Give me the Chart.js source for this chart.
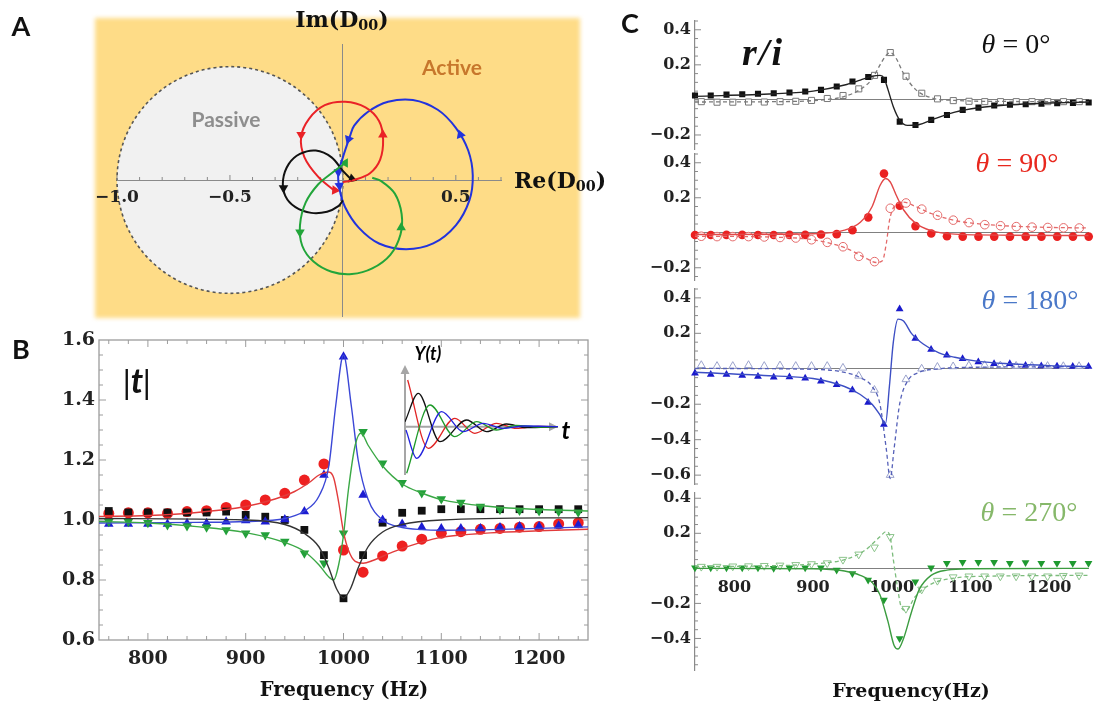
<!DOCTYPE html>
<html>
<head>
<meta charset="utf-8">
<script src="https://cdn.jsdelivr.net/npm/chart.js@4.4.1/dist/chart.umd.min.js"></script>
<style>
  body { margin: 0; background: #fff; }
  #wrap { position: relative; width: 1094px; height: 709px; overflow: hidden; font-family: 'DejaVu Serif', serif; }
  canvas { position: absolute; }
  .t { position: absolute; transform: translate(-50%, -50%); white-space: nowrap; z-index: 5; line-height: 1; }
  .lbl { font-family: Lato, 'Open Sans', sans-serif; font-weight: bold; font-size: 27px; color: #111; }
  .ser { font-family: 'DejaVu Serif', serif; font-weight: bold; color: #111; }
  .th { font-family: 'Liberation Serif', serif; font-size: 28px; }
  sub { font-size: 0.65em; vertical-align: -0.25em; }
</style>
</head>
<body>
<div id="wrap">
  <canvas id="cA" width="600" height="330" style="left:0px;top:0px"></canvas>
  <canvas id="cB" width="600" height="389" style="left:0px;top:320px"></canvas>
  <canvas id="cIn" width="185" height="140" style="left:395px;top:345px"></canvas>
  <canvas id="c1" width="494" height="156" style="left:600px;top:7px"></canvas>
  <canvas id="c2" width="494" height="154" style="left:600px;top:140px"></canvas>
  <canvas id="c3" width="494" height="223" style="left:600px;top:275px"></canvas>
  <canvas id="c4" width="494" height="205" style="left:600px;top:479px"></canvas>

  <div class="t lbl" style="left:21px;top:25px">A</div>
  <div class="t ser" style="left:342px;top:20px;font-size:22px">Im(D<sub>00</sub>)</div>
  <div class="t ser" style="left:514px;top:181px;font-size:22px;transform:translate(0,-50%)">Re(D<sub>00</sub>)</div>
  <div class="t lbl" style="left:226px;top:118px;font-size:21px;color:#8e8e8e">Passive</div>
  <div class="t lbl" style="left:452px;top:66px;font-size:21px;color:#c7772c">Active</div>

  <div class="t lbl" style="left:21px;top:348px">B</div>
  <div class="t ser" style="left:137px;top:381px;font-size:34px;font-family:'Liberation Serif',serif;font-style:italic">|<span style="font-family:Lato,sans-serif">t</span>|</div>
  <div class="t" style="left:428px;top:353px;font-family:Lato,sans-serif;font-weight:bold;font-style:italic;font-size:18px">Y(t)</div>
  <div class="t" style="left:566px;top:430px;font-family:Lato,sans-serif;font-weight:bold;font-style:italic;font-size:24px">t</div>
  <div class="t ser" style="left:344px;top:690px;font-size:19.5px">Frequency (Hz)</div>

  <div class="t lbl" style="left:630px;top:22px">C</div>
  <div class="t ser" style="left:763px;top:52px;font-size:38px;font-family:'Liberation Serif',serif;font-style:italic;letter-spacing:2px">r/i</div>
  <div class="t th" style="left:1016px;top:44px;color:#111"><i>θ</i> = 0°</div>
  <div class="t th" style="left:1017px;top:163px;color:#e8281e"><i>θ</i> = 90°</div>
  <div class="t th" style="left:1030px;top:300px;color:#4a78c8"><i>θ</i> = 180°</div>
  <div class="t th" style="left:1029px;top:512px;color:#86b86a"><i>θ</i> = 270°</div>
  <div class="t ser" style="left:911px;top:690px;font-size:19px">Frequency(Hz)</div>
</div>

<script>
// ---- panel A: D00 in the complex plane ----
const aTicksX = [-1.0, -0.5, 0.5];
const passiveCenter = [-0.5, 0];
const passiveRadius = 0.5;

const redLoop = [[0.0,-0.01],[0.05,0.0],[0.12,0.03],[0.165,0.09],[0.178,0.18],[0.16,0.26],[0.1,0.32],[0.01,0.345],[-0.08,0.33],[-0.15,0.27],[-0.185,0.19],[-0.17,0.1],[-0.11,0.015],[-0.04,-0.045]];
const blueLoop = [[0.03,0.19],[0.0,0.1],[-0.02,0.03],[-0.015,-0.04],[0.01,-0.12],[0.07,-0.21],[0.16,-0.28],[0.28,-0.305],[0.4,-0.28],[0.5,-0.2],[0.56,-0.09],[0.575,0.02],[0.555,0.13],[0.5,0.23],[0.42,0.31],[0.31,0.353],[0.2,0.345],[0.11,0.3],[0.05,0.24],[0.03,0.19]];
const greenLoop = [[0.01,0.075],[-0.05,0.03],[-0.11,-0.02],[-0.165,-0.1],[-0.19,-0.2],[-0.18,-0.29],[-0.13,-0.36],[-0.05,-0.405],[0.04,-0.415],[0.13,-0.39],[0.21,-0.33],[0.255,-0.24],[0.26,-0.15],[0.23,-0.06],[0.17,-0.005],[0.13,0.01]];
const blackLoop = [[0.04,0.0],[0.0,0.04],[-0.05,0.1],[-0.12,0.13],[-0.19,0.115],[-0.24,0.07],[-0.265,0.0],[-0.255,-0.07],[-0.21,-0.12],[-0.14,-0.145],[-0.07,-0.14],[-0.02,-0.115],[0.0,-0.09]];

const redArrows = [[0.177,0.2],[-0.185,0.2],[-0.035,-0.045]];
const redArrowRot = [0, 180, 215];
const blueArrows = [[0.52,0.2],[0.025,0.18],[-0.02,0.035],[-0.015,-0.025]];
const blueArrowRot = [340, 200, 180, 175];
const greenArrows = [[-0.19,-0.23],[0.258,-0.21],[0.01,0.075]];
const greenArrowRot = [180, 0, 30];
const blackArrows = [[-0.263,-0.035],[0.04,0.005]];
const blackArrowRot = [180, 110];

// ---- panel B: |t| ----
const bTicksX = [800, 900, 1000, 1100, 1200];
const bTicksY = [0.6, 0.8, 1.0, 1.2, 1.4, 1.6];
const bFreq = [760,780,800,820,840,860,880,900,920,940,960,980,1000,1020,1040,1060,1080,1100,1120,1140,1160,1180,1200,1220,1240];
const bRed = [1.022,1.024,1.024,1.022,1.028,1.031,1.042,1.05,1.067,1.089,1.133,1.187,0.9,0.826,0.88,0.913,0.936,0.956,0.961,0.969,0.972,0.976,0.978,0.987,0.991];
const bBlue = [0.987,0.987,0.987,0.987,0.989,0.989,0.994,0.998,0.994,1.002,1.028,1.15,1.544,1.083,1.0,0.987,0.976,0.972,0.972,0.972,0.975,0.978,0.978,0.981,0.983];
const bGreen = [0.994,0.994,0.991,0.983,0.98,0.976,0.967,0.956,0.95,0.928,0.889,0.856,0.956,1.294,1.189,1.124,1.09,1.07,1.058,1.045,1.035,1.032,1.03,1.028,1.026];
const bBlack = [1.03,1.025,1.025,1.025,1.025,1.025,1.028,1.017,1.011,1.0,0.967,0.883,0.739,0.883,0.991,1.024,1.031,1.036,1.036,1.036,1.036,1.036,1.036,1.036,1.036];

const bRedFitX = [750,800,850,900,930,950,965,975,985,990,995,1000,1005,1012,1020,1030,1050,1080,1100,1150,1200,1250];
const bRedFitY = [1.012,1.015,1.025,1.045,1.07,1.095,1.125,1.15,1.16,1.14,1.06,0.96,0.9,0.862,0.856,0.865,0.893,0.926,0.942,0.957,0.964,0.969];
const bBlueFitX = [750,850,900,940,960,975,985,992,1000,1008,1015,1025,1040,1060,1080,1100,1150,1200,1250];
const bBlueFitY = [0.99,0.992,0.995,1.005,1.03,1.08,1.18,1.38,1.55,1.38,1.2,1.07,1.0,0.975,0.968,0.966,0.968,0.972,0.977];
const bGreenFitX = [750,800,850,900,940,960,975,985,990,995,1000,1005,1012,1018,1025,1040,1060,1080,1100,1150,1200,1250];
const bGreenFitY = [0.995,0.99,0.978,0.958,0.925,0.895,0.85,0.81,0.8,0.85,0.95,1.1,1.25,1.29,1.25,1.18,1.12,1.09,1.068,1.045,1.035,1.03];
const bBlackFitX = [750,900,940,960,975,985,993,1000,1007,1015,1025,1040,1060,1100,1250];
const bBlackFitY = [1.005,1.0,0.985,0.955,0.91,0.84,0.77,0.74,0.77,0.84,0.91,0.96,0.985,1.0,1.008];

// inset Y(t): turning points of the four ringing responses
const inRed = [[0.8,14],[7,-6.5],[15,2.5],[21,-2],[27.5,1],[33.5,-0.5],[40,0.1],[46,0]];
const inBlack = [[0,1.5],[4,10],[10.5,-4.5],[18.5,2],[24.5,-1.5],[30.5,0.8],[36.5,-0.3],[46,0]];
const inGreen = [[0.5,-14],[7.5,6.5],[15,-3],[21.5,1.5],[27.5,-1],[33.5,0.4],[40,-0.1],[46,0]];
const inBlue = [[0.3,-1],[3.5,-9.5],[11,4.5],[17.5,-1.5],[23.5,1],[29.5,-0.5],[36,0.2],[46,0]];

// ---- panel C: r/i ----
const cTicksX = [800, 900, 1000, 1100, 1200];
const cFreq = [750,770,790,810,830,850,870,890,910,930,950,970,990,1010,1030,1050,1070,1090,1110,1130,1150,1170,1190,1210,1230,1250];
const cOpenFreq = [758,778,798,818,838,858,878,898,918,938,958,978,998,1018,1038,1058,1078,1098,1118,1138,1158,1178,1198,1218,1238];

const c1Filled = [0.025,0.025,0.03,0.032,0.035,0.038,0.042,0.048,0.057,0.076,0.105,0.131,0.114,-0.124,-0.143,-0.114,-0.086,-0.057,-0.044,-0.032,-0.028,-0.025,-0.021,-0.019,-0.017,-0.015];
const c1Open = [-0.01,-0.013,-0.013,-0.012,-0.012,-0.01,-0.008,-0.003,0.008,0.025,0.063,0.14,0.27,0.135,0.038,0.006,-0.004,-0.008,-0.01,-0.01,-0.01,-0.01,-0.01,-0.01,-0.01];
const c1FitX = [750,850,900,940,960,975,985,990,995,1002,1010,1020,1035,1050,1080,1110,1150,1200,1250];
const c1FitY = [0.02,0.035,0.05,0.085,0.113,0.135,0.14,0.125,0.06,-0.04,-0.115,-0.145,-0.14,-0.115,-0.07,-0.045,-0.028,-0.018,-0.012];
const c1DashX = [750,850,900,940,960,975,985,992,998,1005,1015,1030,1050,1080,1150,1250];
const c1DashY = [-0.012,-0.01,-0.004,0.02,0.06,0.12,0.2,0.25,0.27,0.24,0.15,0.06,0.012,-0.003,-0.009,-0.01];

const c2Filled = [-0.013,-0.013,-0.012,-0.012,-0.013,-0.013,-0.012,-0.012,-0.01,-0.008,0.015,0.088,0.338,0.154,0.038,-0.004,-0.02,-0.022,-0.022,-0.022,-0.022,-0.022,-0.022,-0.022,-0.022,-0.022];
const c2Open = [-0.02,-0.022,-0.022,-0.022,-0.024,-0.027,-0.03,-0.04,-0.055,-0.08,-0.135,-0.165,0.14,0.17,0.135,0.1,0.072,0.058,0.046,0.04,0.035,0.032,0.03,0.028,0.027];
const c2FitX = [750,900,940,960,975,985,992,998,1005,1015,1030,1050,1080,1150,1250];
const c2FitY = [-0.01,-0.006,0.015,0.06,0.15,0.27,0.31,0.29,0.22,0.13,0.055,0.012,-0.008,-0.014,-0.016];
const c2DashX = [750,850,900,940,965,980,988,993,997,1003,1015,1030,1050,1080,1120,1180,1250];
const c2DashY = [-0.02,-0.025,-0.04,-0.085,-0.14,-0.17,-0.16,-0.06,0.07,0.15,0.175,0.15,0.11,0.07,0.047,0.033,0.027];

const c3Filled = [-0.025,-0.032,-0.032,-0.038,-0.044,-0.048,-0.046,-0.053,-0.07,-0.09,-0.12,-0.19,-0.314,0.337,0.171,0.109,0.076,0.057,0.038,0.029,0.029,0.019,0.016,0.014,0.013,0.013];
const c3Open = [0.02,0.015,0.015,0.02,0.015,0.018,0.015,0.015,0.015,0.005,-0.04,-0.12,-0.6,-0.06,0.0,0.01,0.013,0.018,0.02,0.018,0.016,0.015,0.015,0.014,0.014];
const c3FitX = [750,850,900,940,960,975,985,992,997,1002,1008,1015,1025,1040,1060,1080,1110,1150,1200,1250];
const c3FitY = [-0.02,-0.04,-0.055,-0.1,-0.145,-0.2,-0.26,-0.31,-0.1,0.15,0.28,0.27,0.2,0.14,0.09,0.065,0.042,0.028,0.018,0.013];
const c3DashX = [750,900,940,960,975,985,993,998,1003,1010,1020,1035,1060,1100,1250];
const c3DashY = [0.002,-0.003,-0.02,-0.05,-0.1,-0.2,-0.45,-0.62,-0.45,-0.2,-0.07,-0.02,0.0,0.008,0.012];

const c4Filled = [0.004,0.004,0.004,0.004,0.004,0.0,0.004,0.004,0.004,-0.01,-0.03,-0.067,-0.18,-0.4,-0.077,0.004,0.029,0.035,0.035,0.035,0.029,0.033,0.029,0.029,0.029,0.029];
const c4Open = [0.01,0.01,0.012,0.013,0.015,0.017,0.02,0.025,0.03,0.05,0.08,0.12,0.18,-0.23,-0.12,-0.07,-0.05,-0.045,-0.045,-0.045,-0.045,-0.045,-0.045,-0.042,-0.04];
const c4FitX = [750,900,940,960,975,985,995,1003,1008,1015,1025,1035,1050,1070,1100,1250];
const c4FitY = [0.0,-0.002,-0.015,-0.04,-0.08,-0.15,-0.3,-0.44,-0.46,-0.4,-0.25,-0.12,-0.04,-0.01,-0.002,0.0];
const c4DashX = [750,850,900,940,965,985,993,998,1002,1007,1012,1018,1030,1050,1080,1120,1250];
const c4DashY = [0.01,0.015,0.025,0.05,0.1,0.18,0.21,0.18,0.05,-0.1,-0.22,-0.24,-0.16,-0.09,-0.055,-0.045,-0.04];

// ---- helpers ----
const xy = (xs, ys) => xs.map((x, i) => ({ x: x, y: ys[i] }));
const pairs = arr => arr.map(p => ({ x: p[0], y: p[1] }));
const fmt = v => (v < 0 ? '\u2212' : '') + Math.abs(v).toFixed(1);
const plain = v => String(v);
const serifBold = size => ({ family: 'DejaVu Serif', size: size, weight: 'bold' });
const setTicks = list => (s => { s.ticks = list.map(v => ({ value: v })); });
const quiet = { legend: { display: false }, tooltip: { enabled: false } };

function loop(data, color) {
    return { data: pairs(data), showLine: true, borderColor: color, borderWidth: 2, pointRadius: 0, tension: 0.35, fill: false };
}
function arrows(data, rot, color) {
    return { data: pairs(data), showLine: false, pointStyle: 'triangle', pointRotation: rot, pointRadius: 5.5,
             backgroundColor: color, borderColor: color, borderWidth: 0, clip: false };
}

// orange background, passive disk and small ticks on Re axis
const panelA = {
    id: 'panelA',
    beforeDraw(chart) {
        const { ctx, scales: { x, y } } = chart;
        ctx.save();
        ctx.filter = 'blur(2px)';
        ctx.fillStyle = '#fedc87';
        ctx.fillRect(95, 18, 485, 300);
        ctx.filter = 'none';
        const cx = x.getPixelForValue(passiveCenter[0]);
        const cy = y.getPixelForValue(passiveCenter[1]);
        const rx = x.getPixelForValue(passiveCenter[0] + passiveRadius) - cx;
        const ry = cy - y.getPixelForValue(passiveCenter[1] + passiveRadius);
        ctx.beginPath();
        ctx.ellipse(cx, cy, rx, ry, 0, 0, Math.PI * 2);
        ctx.fillStyle = '#f1f1f1';
        ctx.fill();
        ctx.setLineDash([3, 3]);
        ctx.strokeStyle = '#555';
        ctx.lineWidth = 1.6;
        ctx.stroke();
        ctx.restore();
    },
    beforeDatasetsDraw(chart) {
        const { ctx, scales: { x, y } } = chart;
        const y0 = y.getPixelForValue(0);
        ctx.save();
        ctx.strokeStyle = '#8a8a8a';
        ctx.lineWidth = 1;
        ctx.beginPath();
        for (let k = -10; k <= 7; k++) {
            const px = x.getPixelForValue(k / 10);
            const len = (k % 5 === 0) ? 5 : 3;
            ctx.moveTo(px, y0);
            ctx.lineTo(px, y0 - len);
        }
        ctx.stroke();
        ctx.restore();
    }
};

new Chart(document.getElementById('cA'), {
    type: 'scatter',
    data: {
        datasets: [
            loop(greenLoop, '#22a53a'),
            loop(blackLoop, '#111'),
            loop(redLoop, '#ea2227'),
            loop(blueLoop, '#2233dd'),
            arrows(greenArrows, greenArrowRot, '#22a53a'),
            arrows(blackArrows, blackArrowRot, '#111'),
            arrows(redArrows, redArrowRot, '#ea2227'),
            arrows(blueArrows, blueArrowRot, '#2233dd')
        ]
    },
    options: {
        responsive: false, animation: false,
        layout: { padding: { left: 117, right: 99, top: 44, bottom: 14 } },
        plugins: quiet,
        scales: {
            x: {
                type: 'linear', min: -1, max: 0.7, position: { y: 0 },
                grid: { display: false, drawTicks: false }, border: { color: '#8a8a8a' },
                afterBuildTicks: setTicks(aTicksX),
                ticks: { callback: fmt, font: serifBold(17), color: '#222', padding: 7, autoSkip: false, maxRotation: 0 }
            },
            y: {
                type: 'linear', min: -0.6, max: 0.6, position: { x: 0 },
                grid: { display: false, drawTicks: false }, border: { color: '#8a8a8a' },
                ticks: { display: false }
            }
        }
    },
    plugins: [panelA]
});

// frame with inward ticks (panel B)
const frameTicks = {
    id: 'frameTicks',
    beforeDatasetsDraw(chart) {
        const { ctx, chartArea: a, scales: { x, y } } = chart;
        ctx.save();
        ctx.strokeStyle = '#9c9c9c';
        ctx.lineWidth = 1.3;
        ctx.strokeRect(a.left, a.top, a.right - a.left, a.bottom - a.top);
        ctx.lineWidth = 1;
        ctx.beginPath();
        for (let f = 760; f <= 1240; f += 20) {
            const px = x.getPixelForValue(f);
            const len = (f % 100 === 0) ? 7 : 4;
            ctx.moveTo(px, a.bottom); ctx.lineTo(px, a.bottom - len);
            ctx.moveTo(px, a.top); ctx.lineTo(px, a.top + len);
        }
        for (let k = 13; k <= 31; k++) {
            const py = y.getPixelForValue(k / 20);
            const len = (k % 4 === 0) ? 7 : 4;
            ctx.moveTo(a.left, py); ctx.lineTo(a.left + len, py);
            ctx.moveTo(a.right, py); ctx.lineTo(a.right - len, py);
        }
        ctx.stroke();
        ctx.restore();
    }
};

function fit(xs, ys, color) {
    return { data: xy(xs, ys), borderColor: color, borderWidth: 1.4, pointRadius: 0, cubicInterpolationMode: 'monotone', fill: false };
}
function marks(xs, ys, style, r, color, rot) {
    return { data: xy(xs, ys), showLine: false, pointStyle: style, pointRadius: r, pointRotation: rot || 0,
             backgroundColor: color, borderColor: color, borderWidth: 0, clip: 8 };
}

new Chart(document.getElementById('cB'), {
    type: 'line',
    data: {
        datasets: [
            fit(bBlackFitX, bBlackFitY, '#333'),
            fit(bGreenFitX, bGreenFitY, '#3aa845'),
            fit(bBlueFitX, bBlueFitY, '#3b47d6'),
            fit(bRedFitX, bRedFitY, '#e23b3b'),
            marks(bFreq, bGreen, 'triangle', 5.5, '#22a03a', 180),
            marks(bFreq, bBlue, 'triangle', 5.5, '#1c1cd2'),
            marks(bFreq, bBlack, 'rect', 5.5, '#111'),
            marks(bFreq, bRed, 'circle', 5.5, '#ee2020')
        ]
    },
    options: {
        responsive: false, animation: false,
        layout: { padding: { left: 0, right: 12, top: 20, bottom: 0 } },
        plugins: quiet,
        scales: {
            x: {
                type: 'linear', min: 750, max: 1250,
                afterFit: s => { s.height = 69; },
                afterBuildTicks: setTicks(bTicksX),
                grid: { display: false, drawTicks: false }, border: { display: false },
                ticks: { callback: plain, font: serifBold(19), color: '#222', padding: 8, autoSkip: false, maxRotation: 0 }
            },
            y: {
                type: 'linear', min: 0.6, max: 1.6,
                afterFit: s => { s.width = 99; },
                afterBuildTicks: setTicks(bTicksY),
                grid: { display: false, drawTicks: false }, border: { display: false },
                ticks: { callback: fmt, font: serifBold(19), color: '#222', padding: 4 }
            }
        }
    },
    plugins: [frameTicks]
});

// inset axes with arrow heads
const insetAxes = {
    id: 'insetAxes',
    beforeDatasetsDraw(chart) {
        const { ctx, scales: { x, y } } = chart;
        const x0 = x.getPixelForValue(0), y0 = y.getPixelForValue(0);
        const yt = y.getPixelForValue(y.max), yb = y.getPixelForValue(y.min);
        const xr = x.getPixelForValue(x.max);
        ctx.save();
        ctx.strokeStyle = '#a6a6a6';
        ctx.fillStyle = '#a6a6a6';
        ctx.lineWidth = 2;
        ctx.beginPath();
        ctx.moveTo(x0, yb); ctx.lineTo(x0, yt + 6);
        ctx.moveTo(x0, y0); ctx.lineTo(xr - 6, y0);
        ctx.stroke();
        ctx.beginPath();
        ctx.moveTo(x0, yt); ctx.lineTo(x0 - 4.5, yt + 9); ctx.lineTo(x0 + 4.5, yt + 9); ctx.closePath();
        ctx.moveTo(xr, y0); ctx.lineTo(xr - 9, y0 - 4.5); ctx.lineTo(xr - 9, y0 + 4.5); ctx.closePath();
        ctx.fill();
        ctx.restore();
    }
};

function wave(data, color) {
    return { data: pairs(data), borderColor: color, borderWidth: 1.3, pointRadius: 0, cubicInterpolationMode: 'monotone', fill: false };
}

new Chart(document.getElementById('cIn'), {
    type: 'line',
    data: { datasets: [wave(inBlue, '#2222dd'), wave(inGreen, '#1f9a2a'), wave(inBlack, '#111'), wave(inRed, '#e02424')] },
    options: {
        responsive: false, animation: false,
        layout: { padding: { left: 10, right: 22, top: 20, bottom: 10 } },
        plugins: quiet,
        scales: {
            x: { type: 'linear', min: 0, max: 46, display: false },
            y: { type: 'linear', min: -14.5, max: 18.5, display: false }
        }
    },
    plugins: [insetAxes]
});

// panel C: left axis with inward ticks
const leftTicks = {
    id: 'leftTicks',
    beforeDatasetsDraw(chart) {
        const { ctx, chartArea: a, scales: { y } } = chart;
        ctx.save();
        ctx.strokeStyle = '#8a8a8a';
        ctx.lineWidth = 1;
        ctx.beginPath();
        for (let k = Math.ceil(y.min * 20); k <= Math.floor(y.max * 20); k++) {
            const py = y.getPixelForValue(k / 20);
            const len = (k % 4 === 0) ? 6 : 3;
            ctx.moveTo(a.left, py);
            ctx.lineTo(a.left + len, py);
        }
        ctx.stroke();
        ctx.restore();
    }
};

function drawC(id, c) {
    new Chart(document.getElementById(id), {
        type: 'line',
        data: {
            datasets: [
                fit(c.fitX, c.fitY, c.line),
                Object.assign(fit(c.dashX, c.dashY, c.dash), { borderDash: [4, 3], borderWidth: 1.3 }),
                { data: xy(cOpenFreq, c.open), showLine: false, pointStyle: c.style, pointRotation: c.rot, pointRadius: c.r,
                  backgroundColor: '#fff', borderColor: c.openColor, borderWidth: 1, clip: 8 },
                marks(cFreq, c.filled, c.style, c.r, c.mark, c.rot)
            ]
        },
        options: {
            responsive: false, animation: false,
            layout: { padding: { left: 0, right: 2, top: 14, bottom: 14 } },
            plugins: quiet,
            scales: {
                x: {
                    type: 'linear', min: 750, max: 1250, position: { y: 0 },
                    afterBuildTicks: setTicks(cTicksX),
                    grid: { display: false, drawTicks: false }, border: { color: '#808080' },
                    ticks: { display: c.xLabels, callback: plain, font: serifBold(16), color: '#222', padding: 10, autoSkip: false, maxRotation: 0 }
                },
                y: {
                    type: 'linear', min: c.min, max: c.max,
                    afterFit: s => { s.width = 95; },
                    afterBuildTicks: setTicks(c.ticks),
                    grid: { display: false, drawTicks: false }, border: { color: '#8a8a8a', width: 1.2 },
                    ticks: { callback: fmt, font: serifBold(16), color: '#222', padding: 4 }
                }
            }
        },
        plugins: [leftTicks]
    });
}

drawC('c1', { min: -0.28, max: 0.45, ticks: [-0.2, 0.2, 0.4], xLabels: false,
    fitX: c1FitX, fitY: c1FitY, dashX: c1DashX, dashY: c1DashY, filled: c1Filled, open: c1Open,
    line: '#222', dash: '#7a7a7a', mark: '#111', openColor: '#777', style: 'rect', r: 4.3, rot: 0 });
drawC('c2', { min: -0.27, max: 0.45, ticks: [-0.2, 0.2, 0.4], xLabels: false,
    fitX: c2FitX, fitY: c2FitY, dashX: c2DashX, dashY: c2DashY, filled: c2Filled, open: c2Open,
    line: '#e24848', dash: '#e46a6a', mark: '#ea2020', openColor: '#e46a6a', style: 'circle', r: 4.3, rot: 0 });
drawC('c3', { min: -0.65, max: 0.45, ticks: [-0.6, -0.4, -0.2, 0.2, 0.4], xLabels: false,
    fitX: c3FitX, fitY: c3FitY, dashX: c3DashX, dashY: c3DashY, filled: c3Filled, open: c3Open,
    line: '#3d4fc4', dash: '#5560b8', mark: '#1a1acc', openColor: '#9aa2cc', style: 'triangle', r: 4.5, rot: 0 });
drawC('c4', { min: -0.58, max: 0.43, ticks: [-0.4, -0.2, 0.2, 0.4], xLabels: true,
    fitX: c4FitX, fitY: c4FitY, dashX: c4DashX, dashY: c4DashY, filled: c4Filled, open: c4Open,
    line: '#3c9c40', dash: '#7cbc7c', mark: '#1f9a30', openColor: '#8cc48c', style: 'triangle', r: 4.5, rot: 180 });
</script>
</body>
</html>
